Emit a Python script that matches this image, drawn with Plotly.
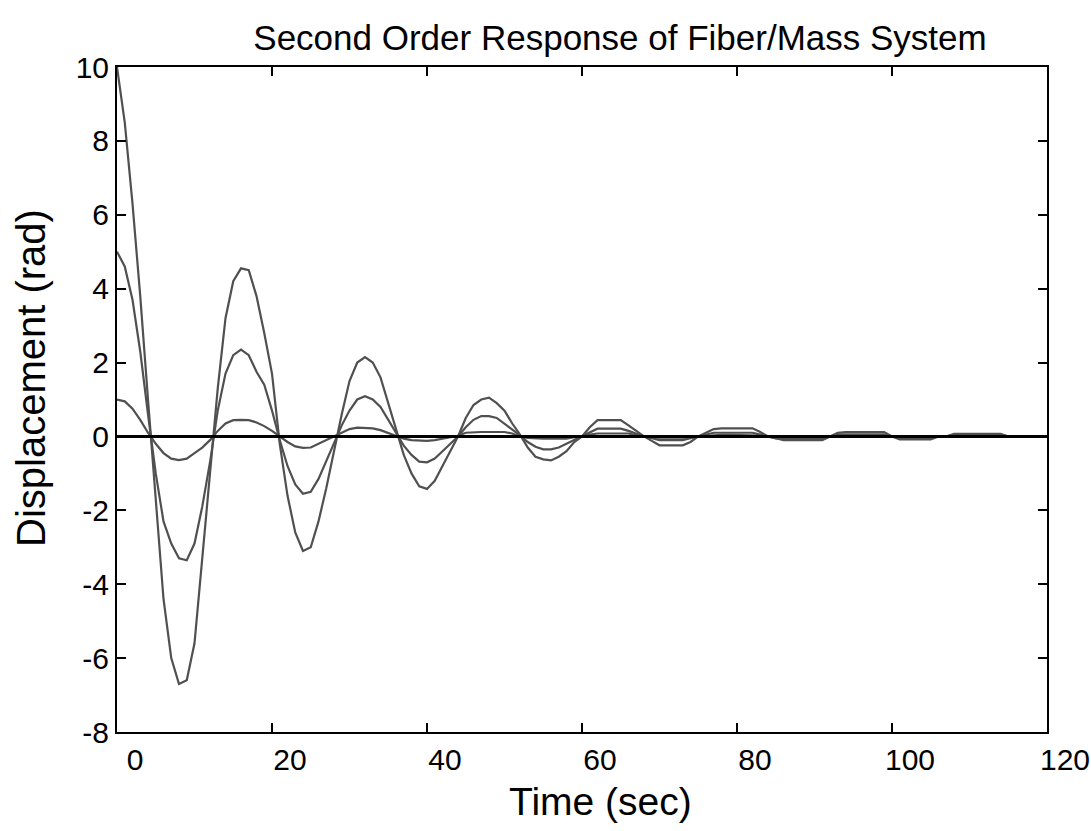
import plotly.graph_objects as go

# Sample times (s)
time_s = list(range(0, 116))

# Displacement (rad) for the three initial conditions
resp_10 = [10.0, 8.5, 6.3, 3.8, 1.0, -1.7, -4.4, -6.0, -6.7, -6.6,
           -5.6, -3.3, -0.9, 1.3, 3.2, 4.2, 4.55, 4.5, 3.8, 2.8,
           1.7, -0.2, -1.6, -2.6, -3.1, -3.0, -2.3, -1.4, -0.4, 0.6,
           1.5, 2.0, 2.15, 2.0, 1.6, 0.9, 0.2, -0.5, -1.0, -1.35,
           -1.42, -1.2, -0.8, -0.4, 0.0, 0.5, 0.85, 1.0, 1.05, 0.9,
           0.7, 0.35, 0.05, -0.3, -0.55, -0.62, -0.65, -0.55, -0.4, -0.15,
           0.0, 0.25, 0.44, 0.44, 0.44, 0.44, 0.3, 0.15, 0.0, -0.12,
           -0.24, -0.24, -0.24, -0.24, -0.15, 0.0, 0.1, 0.2, 0.22, 0.22,
           0.22, 0.22, 0.22, 0.12, 0.0, -0.05, -0.1, -0.1, -0.1, -0.1,
           -0.1, -0.1, 0.0, 0.1, 0.12, 0.12, 0.12, 0.12, 0.12, 0.12,
           0.0, -0.08, -0.08, -0.08, -0.08, -0.08, 0.0, 0.0, 0.07, 0.07,
           0.07, 0.07, 0.07, 0.07, 0.07, 0.0]

resp_5 = [5.0, 4.6, 3.7, 2.3, 0.6, -1.0, -2.3, -2.9, -3.3, -3.35,
          -2.9, -1.9, -0.7, 0.7, 1.7, 2.2, 2.35, 2.2, 1.75, 1.4,
          0.7, -0.1, -0.8, -1.3, -1.55, -1.5, -1.15, -0.65, -0.2, 0.3,
          0.7, 1.0, 1.09, 1.0, 0.8, 0.45, 0.1, -0.25, -0.5, -0.68,
          -0.7, -0.6, -0.4, -0.2, 0.0, 0.25, 0.45, 0.55, 0.55, 0.5,
          0.35, 0.2, 0.03, -0.15, -0.28, -0.35, -0.35, -0.3, -0.2, -0.1,
          0.0, 0.12, 0.21, 0.21, 0.21, 0.21, 0.15, 0.07, 0.0, -0.05,
          -0.1, -0.1, -0.1, -0.1, -0.05, 0.0, 0.05, 0.1, 0.1, 0.1,
          0.1, 0.1, 0.1, 0.05, 0.0, -0.05, -0.05, -0.05, -0.05, -0.05,
          -0.05, -0.05, 0.0, 0.06, 0.06, 0.06, 0.06, 0.06, 0.06, 0.06,
          0.0, -0.04, -0.04, -0.04, -0.04, -0.04, 0.0, 0.0, 0.04, 0.04,
          0.04, 0.04, 0.04, 0.04, 0.04, 0.0]

resp_1 = [1.0, 0.95, 0.75, 0.45, 0.1, -0.2, -0.45, -0.6, -0.64, -0.6,
          -0.45, -0.3, -0.1, 0.15, 0.35, 0.44, 0.45, 0.44, 0.38, 0.28,
          0.15, 0.0, -0.15, -0.27, -0.31, -0.3, -0.2, -0.1, 0.0, 0.1,
          0.2, 0.24, 0.24, 0.22, 0.17, 0.1, 0.02, -0.06, -0.1, -0.12,
          -0.12, -0.1, -0.06, -0.02, 0.02, 0.1, 0.12, 0.12, 0.12, 0.12,
          0.12, 0.08, 0.0, -0.04, -0.06, -0.06, -0.06, -0.06, -0.06, -0.02,
          0.0, 0.05, 0.08, 0.08, 0.08, 0.08, 0.08, 0.03, 0.0, -0.03,
          -0.03, -0.03, -0.03, -0.03, -0.03, 0.0, 0.02, 0.04, 0.04, 0.04,
          0.04, 0.04, 0.04, 0.02, 0.0, -0.02, -0.02, -0.02, -0.02, -0.02,
          -0.02, -0.02, 0.0, 0.02, 0.02, 0.02, 0.02, 0.02, 0.02, 0.02,
          0.0, -0.01, -0.01, -0.01, -0.01, -0.01, 0.0, 0.0, 0.01, 0.01,
          0.01, 0.01, 0.01, 0.01, 0.01, 0.0]

x_ticks = [0, 20, 40, 60, 80, 100, 120]
y_ticks = [-8, -6, -4, -2, 0, 2, 4, 6, 8, 10]

FONT = "Liberation Sans, Arial, Helvetica, sans-serif"
LINE = "#505050"

fig = go.Figure()
for series in (resp_10, resp_5, resp_1):
    fig.add_trace(go.Scatter(x=time_s, y=series, mode="lines",
                             line=dict(color=LINE, width=2.2),
                             showlegend=False, hoverinfo="skip"))

# reference line at zero displacement
fig.add_trace(go.Scatter(x=[0, 120], y=[0, 0], mode="lines",
                         line=dict(color="black", width=3),
                         showlegend=False, hoverinfo="skip"))

axis_common = dict(
    showgrid=False, zeroline=False, showline=True, linecolor="black",
    linewidth=2, mirror="ticks", ticks="inside", ticklen=9, tickwidth=2,
    tickcolor="black", automargin=False,
    tickfont=dict(family=FONT, size=30, color="black"),
)

fig.update_layout(
    width=1091, height=831,
    margin=dict(l=117, r=44, t=67, b=99),
    paper_bgcolor="white", plot_bgcolor="white",
    title=dict(text="Second Order Response of Fiber/Mass System",
               x=620 / 1091, xanchor="center", xref="container",
               y=1 - 38 / 831, yanchor="middle", yref="container",
               font=dict(family=FONT, size=35, color="black")),
    xaxis=dict(range=[0, 120], tickvals=x_ticks,
               ticktext=[str(v) for v in x_ticks], ticklabelshift=18,
               **axis_common),
    yaxis=dict(range=[-8, 10], tickvals=y_ticks,
               ticktext=[str(v) for v in y_ticks],
               **axis_common),
    annotations=[
        dict(text="Time (sec)", xref="paper", yref="paper",
             x=(600 - 117) / 930, y=(732 - 801) / 665,
             xanchor="center", yanchor="middle", showarrow=False,
             font=dict(family=FONT, size=39, color="black")),
        dict(text="Displacement (rad)", xref="paper", yref="paper",
             x=(31 - 117) / 930, y=(732 - 378) / 665, textangle=-90,
             xanchor="center", yanchor="middle", showarrow=False,
             font=dict(family=FONT, size=40, color="black")),
    ],
)

fig.write_html("out.html")
